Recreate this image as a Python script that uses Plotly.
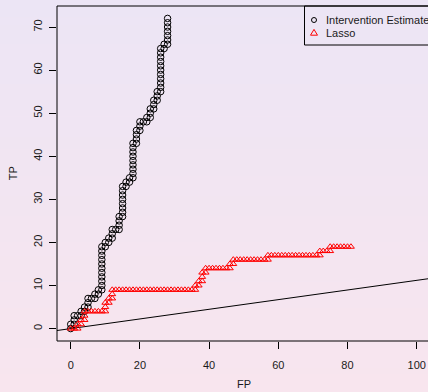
import plotly.graph_objects as go

# ---------------- data ----------------
fp_int = [0, 0, 1, 1, 1, 2, 3, 3, 4, 4, 5, 5, 5, 6, 7, 7, 8, 8, 9,
          9, 9, 9, 9, 9, 9, 9, 9, 9, 9,
          10, 10, 11, 11, 12, 12, 12, 13, 14, 14, 14, 14, 15,
          15, 15, 15, 15, 15, 15, 15,
          16, 16, 17, 17, 18,
          18, 18, 18, 18, 18, 18, 18, 18,
          19, 19, 19, 19, 20, 20, 20, 21, 22, 22, 23, 23, 23, 24, 24, 24, 25, 25, 25, 26,
          26, 26, 26, 26, 26, 26, 26, 26, 26, 26,
          27, 27, 28,
          28, 28, 28, 28, 28, 28]
tp_int = [0, 1, 1, 2, 3, 3, 3, 4, 4, 5, 5, 6, 7, 7, 7, 8, 8, 9, 9,
          10, 11, 12, 13, 14, 15, 16, 17, 18, 19,
          19, 20, 20, 21, 21, 22, 23, 23, 23, 24, 25, 26, 26,
          27, 28, 29, 30, 31, 32, 33,
          33, 34, 34, 35, 35,
          36, 37, 38, 39, 40, 41, 42, 43,
          43, 44, 45, 46, 46, 47, 48, 48, 48, 49, 49, 50, 51, 51, 52, 53, 53, 54, 55, 55,
          56, 57, 58, 59, 60, 61, 62, 63, 64, 65,
          65, 66, 66,
          67, 68, 69, 70, 71, 72]

fp_lasso = [0, 1, 2, 2, 3, 3, 4, 4, 4,
            5, 6, 7, 8, 9, 10,
            10, 10, 11, 11, 12, 12, 12,
            13, 14, 15, 16, 17, 18, 19, 20, 21, 22, 23, 24, 25, 26, 27, 28, 29, 30, 31, 32, 33, 34, 35, 36,
            36, 37, 37, 38, 38, 38, 39, 39,
            40, 41, 42, 43, 44, 45, 46,
            46, 47, 47,
            48, 49, 50, 51, 52, 53, 54, 55, 56, 57,
            57,
            58, 59, 60, 61, 62, 63, 64, 65, 66, 67, 68, 69, 70, 71, 72,
            72, 73, 74, 75, 75,
            76, 77, 78, 79, 80, 81]
tp_lasso = [0, 0, 0, 1, 1, 2, 2, 3, 4,
            4, 4, 4, 4, 4, 4,
            5, 6, 6, 7, 7, 8, 9,
            9, 9, 9, 9, 9, 9, 9, 9, 9, 9, 9, 9, 9, 9, 9, 9, 9, 9, 9, 9, 9, 9, 9, 9,
            10, 10, 11, 11, 12, 13, 13, 14,
            14, 14, 14, 14, 14, 14, 14,
            15, 15, 16,
            16, 16, 16, 16, 16, 16, 16, 16, 16, 16,
            17,
            17, 17, 17, 17, 17, 17, 17, 17, 17, 17, 17, 17, 17, 17, 17,
            18, 18, 18, 18, 19,
            19, 19, 19, 19, 19, 19]

ref_intercept = 0.0
ref_slope = 0.112

x_ticks = [0, 20, 40, 60, 80, 100]
y_ticks = [0, 10, 20, 30, 40, 50, 60, 70]
series_names = ["Intervention Estimate", "Lasso"]

# ---------------- layout geometry ----------------
W, H = 428, 392
ML, MR, MT, MB = 57, 0, 6, 51
PW, PH = W - ML - MR, H - MT - MB
XR = [-3.96, 103.27]
YR = [-2.88, 74.88]

def px2paper_x(px):
    return (px - ML) / PW

def py2paper_y(py):
    return (H - MB - py) / PH

FONT = "Liberation Sans, Arial, Helvetica, sans-serif"
TXT = "#1a1a1a"

fig = go.Figure()

# reference line
rx = [XR[0] - 5, XR[1] + 5]
fig.add_trace(go.Scatter(x=rx, y=[ref_intercept + ref_slope * v for v in rx],
                         mode="lines", line=dict(color="black", width=1),
                         hoverinfo="skip", showlegend=False))

fig.add_trace(go.Scatter(x=fp_int, y=tp_int, mode="markers", name=series_names[0],
                         marker=dict(symbol="circle-open", size=6.5, color="black",
                                     line=dict(width=1, color="black")),
                         showlegend=False))
fig.add_trace(go.Scatter(x=fp_lasso, y=tp_lasso, mode="markers", name=series_names[1],
                         marker=dict(symbol="triangle-up-open", size=6, color="red",
                                     line=dict(width=1, color="red")),
                         showlegend=False))

shapes = []
# gradient background
top = (236, 229, 245)
bot = (248, 229, 238)
n = 60
y_lo, y_hi = py2paper_y(H + 2), py2paper_y(-2)
for i in range(n):
    t = (i + 0.5) / n
    c = tuple(round(bot[k] + (top[k] - bot[k]) * t) for k in range(3))
    shapes.append(dict(type="rect", xref="paper", yref="paper", layer="below",
                       x0=px2paper_x(-2), x1=px2paper_x(W + 2),
                       y0=y_lo + (y_hi - y_lo) * i / n, y1=y_lo + (y_hi - y_lo) * (i + 1) / n + 0.002,
                       line=dict(width=0), fillcolor="rgb(%d,%d,%d)" % c))

# plot box (right edge is outside the visible window)
box = dict(type="line", xref="paper", yref="paper", line=dict(color="black", width=1))
shapes.append(dict(box, x0=0, x1=0, y0=0, y1=1))
shapes.append(dict(box, x0=0, x1=1.02, y0=1, y1=1))
shapes.append(dict(box, x0=0, x1=1.02, y0=0, y1=0))

# legend
shapes.append(dict(type="rect", xref="paper", yref="paper",
                   x0=px2paper_x(304.5), x1=px2paper_x(W + 20),
                   y0=py2paper_y(45), y1=1, line=dict(color="black", width=1)))
shapes.append(dict(type="circle", xref="paper", yref="paper",
                   xsizemode="pixel", ysizemode="pixel",
                   xanchor=px2paper_x(314), yanchor=py2paper_y(20),
                   x0=-2.5, x1=2.5, y0=-2.5, y1=2.5,
                   line=dict(color="black", width=1)))
shapes.append(dict(type="path", xref="paper", yref="paper",
                   xsizemode="pixel", ysizemode="pixel",
                   xanchor=px2paper_x(314), yanchor=py2paper_y(33),
                   path="M-3.5,-2.2 L3.5,-2.2 L0,3.6 Z",
                   line=dict(color="red", width=1)))

annotations = [
    dict(text=series_names[0], xref="paper", yref="paper", x=px2paper_x(323.5), y=py2paper_y(20),
         xanchor="left", yanchor="middle", showarrow=False, font=dict(size=11, color=TXT, family=FONT)),
    dict(text=series_names[1], xref="paper", yref="paper", x=px2paper_x(323.5), y=py2paper_y(33.3),
         xanchor="left", yanchor="middle", showarrow=False, font=dict(size=11, color=TXT, family=FONT)),
    dict(text="FP", xref="paper", yref="paper", x=px2paper_x(243.9), y=py2paper_y(391),
         xanchor="center", yanchor="bottom", showarrow=False, borderpad=0,
         font=dict(size=11, color=TXT, family=FONT)),
    dict(text="TP", xref="paper", yref="paper", x=px2paper_x(12.7), y=py2paper_y(173.5),
         xanchor="center", yanchor="middle", textangle=-90, showarrow=False,
         font=dict(size=11, color=TXT, family=FONT)),
]

fig.update_layout(
    width=W, height=H,
    margin=dict(l=ML, r=MR, t=MT, b=MB, autoexpand=False),
    paper_bgcolor="rgb(242,229,241)",
    plot_bgcolor="rgba(0,0,0,0)",
    shapes=shapes,
    annotations=annotations,
    showlegend=False,
    font=dict(family=FONT, size=11, color=TXT),
    xaxis=dict(range=XR, tickmode="array", tickvals=x_ticks, ticktext=[str(v) for v in x_ticks],
               showgrid=False, zeroline=False, showline=False,
               ticks="outside", ticklen=7, tickwidth=1, tickcolor="black",
               ticklabelstandoff=7, tickfont=dict(size=11, color=TXT, family=FONT)),
    yaxis=dict(range=YR, tickmode="array", tickvals=y_ticks, ticktext=[str(v) for v in y_ticks],
               showgrid=False, zeroline=False, showline=False,
               ticks="outside", ticklen=7, tickwidth=1, tickcolor="black", tickangle=-90,
               ticklabelstandoff=3, tickfont=dict(size=11, color=TXT, family=FONT)),
)

fig.write_html("out.html")
